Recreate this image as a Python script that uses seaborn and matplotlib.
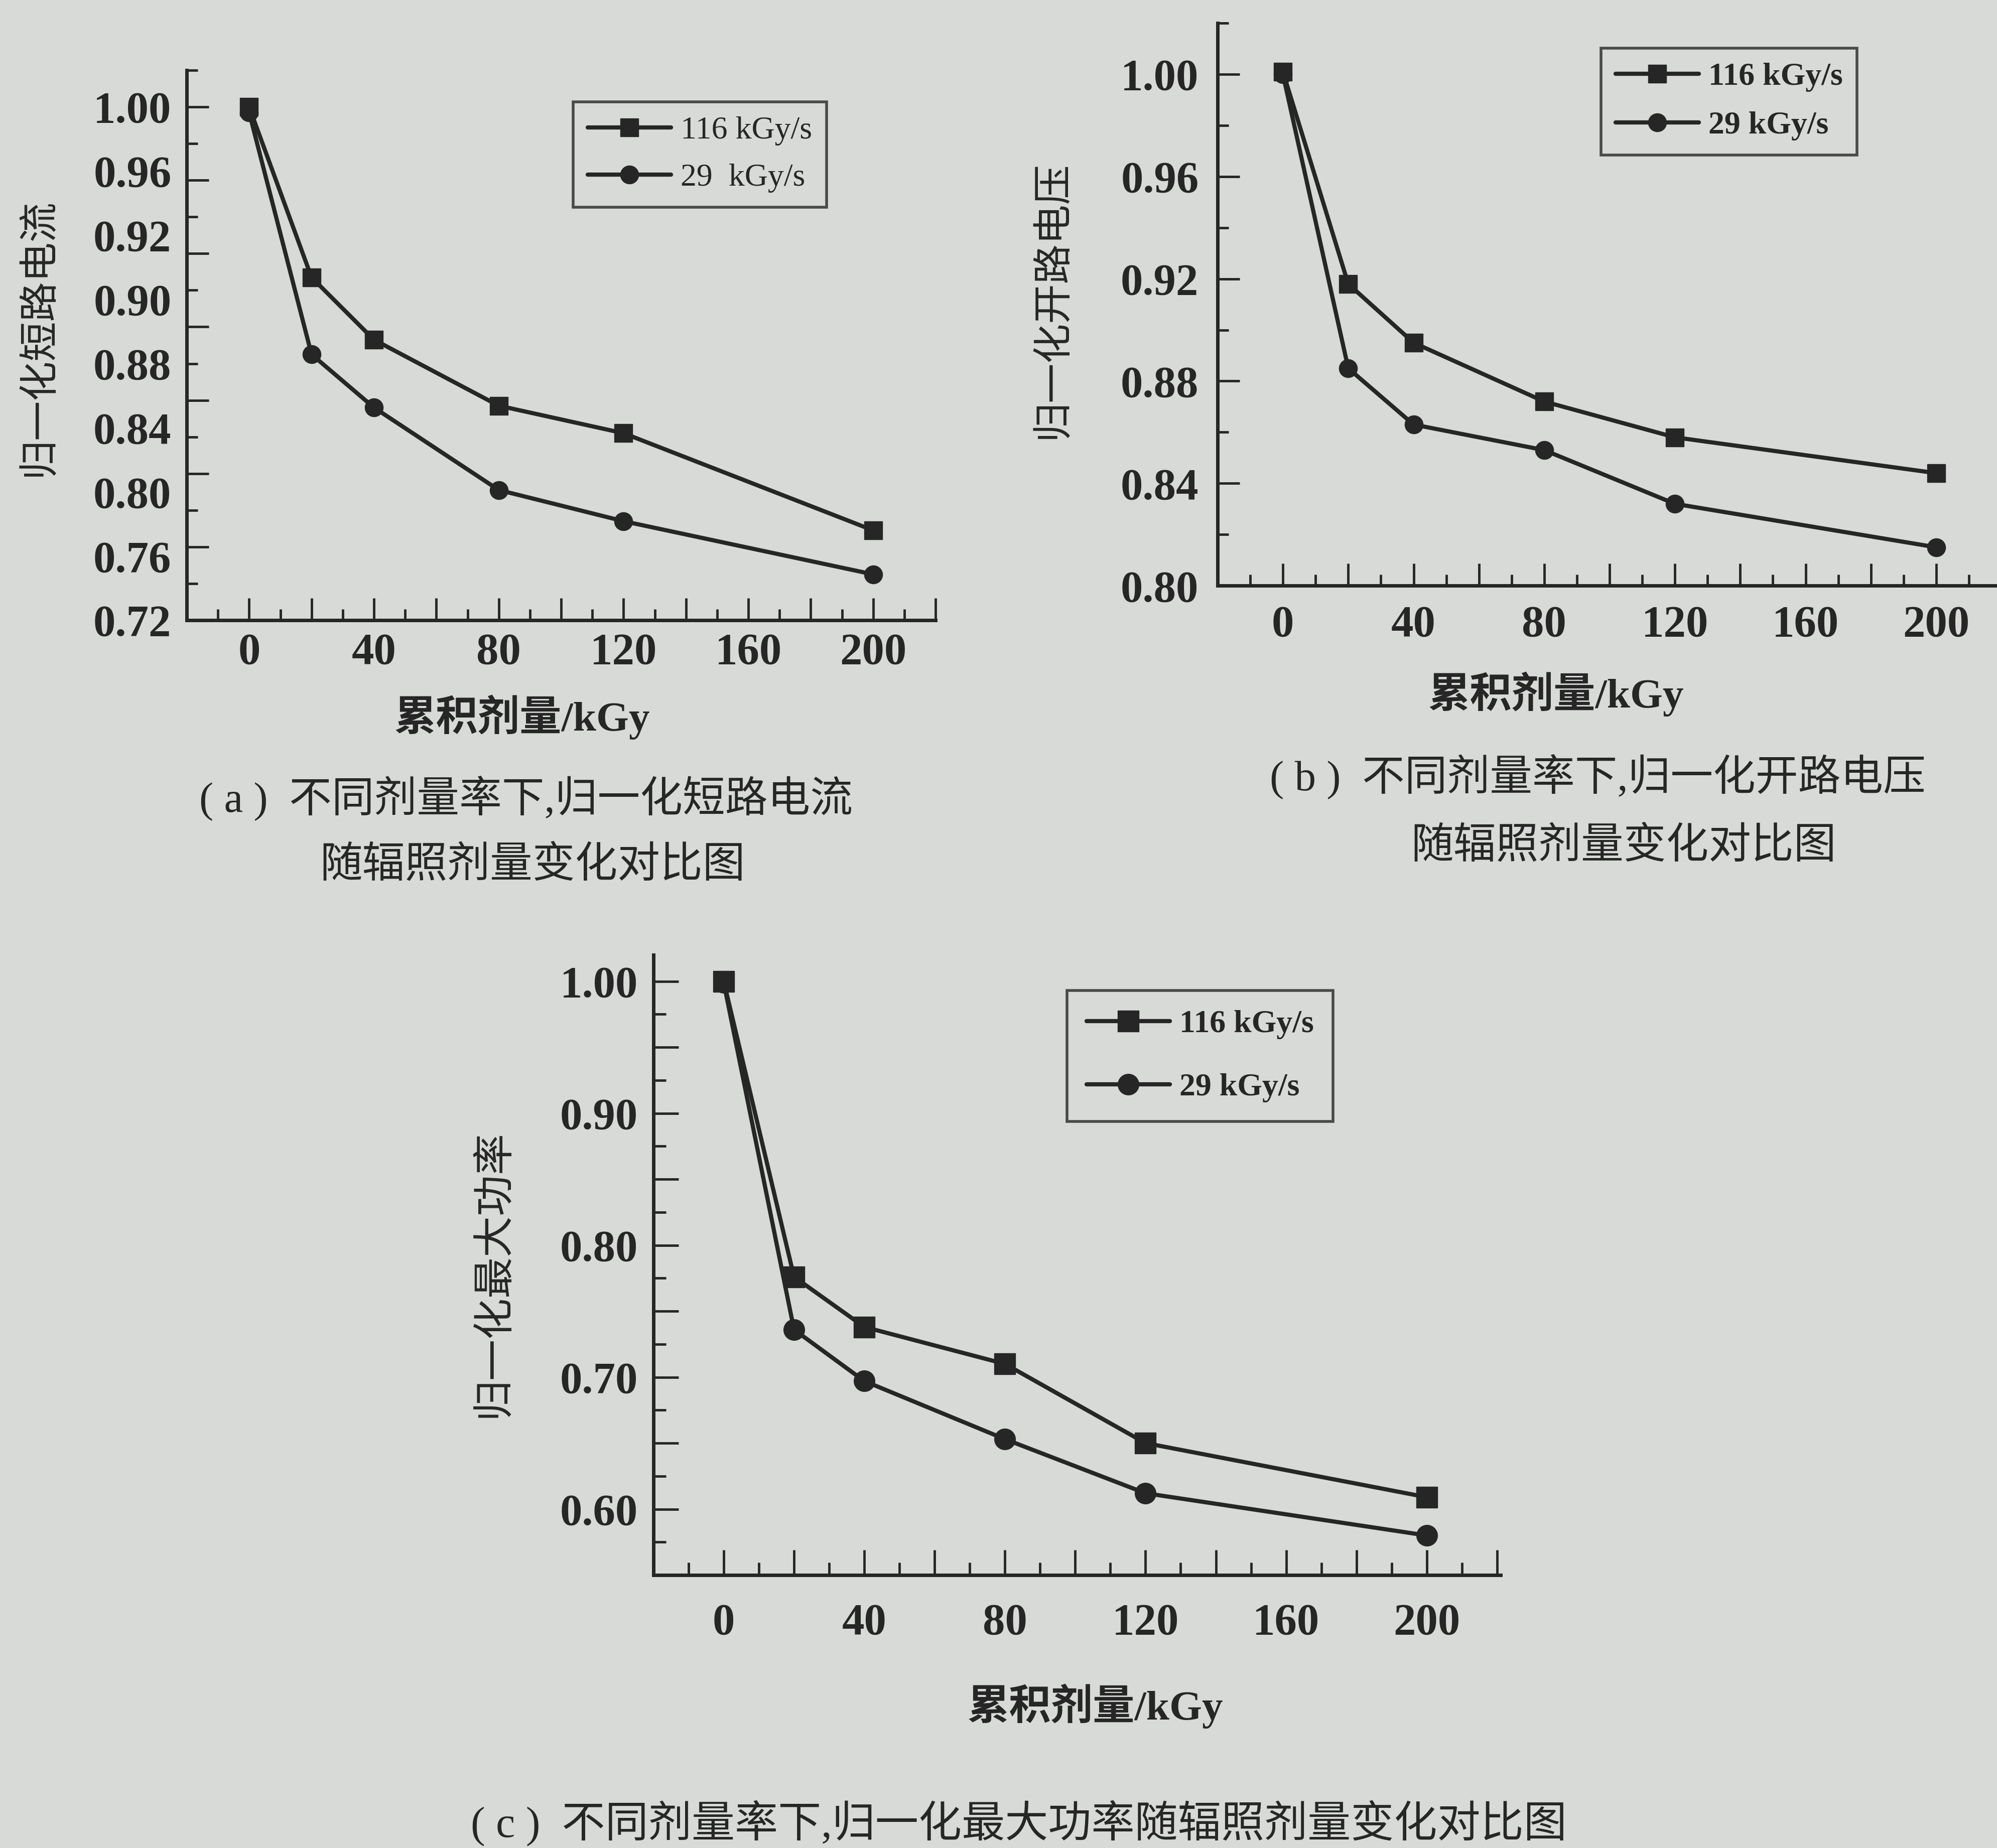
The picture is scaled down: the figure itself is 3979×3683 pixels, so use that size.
import numpy as np
import pandas as pd
import matplotlib
matplotlib.use("Agg")
import matplotlib.pyplot as plt
from matplotlib.ticker import MultipleLocator, NullLocator, FuncFormatter
import seaborn as sns

# ---------------- data ----------------
dose = [0, 20, 40, 80, 120, 200]
rates = ["116 kGy/s", "29 kGy/s"]

isc_116 = [1.000, 0.907, 0.873, 0.837, 0.822, 0.769]
isc_29 = [0.997, 0.865, 0.836, 0.791, 0.774, 0.745]

voc_116 = [1.001, 0.918, 0.895, 0.872, 0.858, 0.844]
voc_29 = [1.000, 0.885, 0.863, 0.853, 0.832, 0.815]

pmax_116 = [1.000, 0.776, 0.738, 0.710, 0.650, 0.609]
pmax_29 = [0.999, 0.736, 0.697, 0.653, 0.612, 0.580]

# printed y tick labels of the short-circuit current panel
isc_tick_labels = ["0.72", "0.76", "0.80", "0.84", "0.88", "0.90", "0.92", "0.96", "1.00"]

xlabel = "累积剂量/kGy"
ylabels = ["归一化短路电流", "归一化开路电压", "归一化最大功率"]
captions = [
    ["( a )  不同剂量率下,归一化短路电流", "随辐照剂量变化对比图"],
    ["( b )  不同剂量率下,归一化开路电压", "随辐照剂量变化对比图"],
    ["( c )  不同剂量率下,归一化最大功率随辐照剂量变化对比图"],
]

# ---------------- style ----------------
INK = "#262626"
PAPER = "#d7dad6"
SERIF = ["Liberation Serif", "Noto Sans CJK SC"]
CJK = ["Noto Sans CJK SC", "Liberation Serif"]

sns.set_theme(style="ticks")
plt.rcParams["font.family"] = SERIF
plt.rcParams["axes.unicode_minus"] = False

W, H = 3979, 3683
fig = plt.figure(figsize=(W / 100, H / 100), dpi=100, facecolor=PAPER)


def draw(rect, s116, s29, xlim, ylim, ms, lw, xpad, ypad, tick_len, legend_kw,
         legend_labels, legend_bold):
    ax = fig.add_axes(rect)
    ax.set_facecolor("none")
    rows = [(d, v, rates[0]) for d, v in zip(dose, s116)] + \
           [(d, v, rates[1]) for d, v in zip(dose, s29)]
    df = pd.DataFrame(rows, columns=["dose", "value", "rate"])
    sns.lineplot(data=df, x="dose", y="value", hue="rate", style="rate",
                 hue_order=rates, style_order=rates,
                 palette={rates[0]: INK, rates[1]: INK},
                 markers={rates[0]: "s", rates[1]: "o"}, dashes=False,
                 markersize=ms, linewidth=lw, markeredgecolor=INK,
                 markeredgewidth=1.0, legend=False, errorbar=None, ax=ax)
    ax.set_xlim(*xlim)
    ax.set_ylim(*ylim)
    ax.set_xlabel("")
    ax.set_ylabel("")
    for side in ("top", "right"):
        ax.spines[side].set_visible(False)
    for side in ("left", "bottom"):
        ax.spines[side].set_linewidth(5.0)
        ax.spines[side].set_color(INK)

    ax.xaxis.set_major_locator(MultipleLocator(20))
    ax.xaxis.set_minor_locator(MultipleLocator(10))
    ax.xaxis.set_major_formatter(FuncFormatter(
        lambda v, p: f"{v:.0f}" if (0 <= v <= 200 and round(v) % 40 == 0) else ""))
    ax.tick_params(axis="both", which="both", direction="in", color=INK,
                   width=3.5, labelcolor=INK)
    ax.tick_params(axis="both", which="major", length=tick_len)
    ax.tick_params(axis="both", which="minor", length=tick_len * 0.5)
    ax.tick_params(axis="x", which="major", pad=xpad, labelsize=64)
    ax.tick_params(axis="y", which="major", pad=ypad, labelsize=64)
    for t in ax.get_xticklabels() + ax.get_yticklabels():
        t.set_fontweight("bold")

    lines = ax.get_lines()[:2]
    leg = ax.legend(lines, legend_labels, frameon=True, fancybox=False,
                    bbox_transform=fig.transFigure, loc="upper left",
                    borderaxespad=0, handlelength=2.6, handletextpad=0.3,
                    prop={"family": SERIF, "size": 46,
                          "weight": "bold" if legend_bold else "normal"},
                    **legend_kw)
    fr = leg.get_frame()
    fr.set_edgecolor(INK)
    fr.set_linewidth(4.0)
    fr.set_facecolor("none")
    for t in leg.get_texts():
        t.set_color(INK)
    return ax


# (a) short-circuit current
ax_a = draw([0.0935, 0.6644, 0.375, 0.2976], isc_116, isc_29,
            (-20, 220), (0.72, 1.02), 26, 6.0, 18, 22, 32,
            dict(bbox_to_anchor=(0.287, 0.9449), labelspacing=0.55, borderpad=0.45),
            ["116 kGy/s", "29  kGy/s"], False)
ax_a.yaxis.set_major_locator(MultipleLocator(0.04))
ax_a.yaxis.set_minor_locator(MultipleLocator(0.02))
ax_a.tick_params(axis="y", which="both", labelleft=False)
sec = ax_a.secondary_yaxis("left")
sec.set_yticks(np.linspace(0.72, 1.00, len(isc_tick_labels)), labels=isc_tick_labels)
sec.yaxis.set_minor_locator(NullLocator())
sec.spines["left"].set_visible(False)
sec.tick_params(axis="y", length=0, pad=22, labelsize=64, labelcolor=INK)
for t in sec.get_yticklabels():
    t.set_fontweight("bold")

# (b) open-circuit voltage
ax_b = draw([0.6097, 0.6831, 0.3903, 0.3044], voc_116, voc_29,
            (-20, 218.6), (0.80, 1.02), 26, 6.0, 28, 27, 32,
            dict(bbox_to_anchor=(0.8017, 0.974), labelspacing=0.6, borderpad=0.45),
            ["116 kGy/s", "29 kGy/s"], True)
ax_b.yaxis.set_major_locator(MultipleLocator(0.04))
ax_b.yaxis.set_minor_locator(MultipleLocator(0.02))
ax_b.yaxis.set_major_formatter(FuncFormatter(lambda v, p: f"{v:.2f}"))
for t in ax_b.get_yticklabels():
    t.set_fontweight("bold")

# (c) maximum power
ax_c = draw([0.3272, 0.1477, 0.4242, 0.3356], pmax_116, pmax_29,
            (-20, 221), (0.55, 1.02), 30, 6.0, 40, 22, 36,
            dict(bbox_to_anchor=(0.5344, 0.464), labelspacing=1.05, borderpad=0.6),
            ["116 kGy/s", "29 kGy/s"], True)
ax_c.yaxis.set_major_locator(MultipleLocator(0.05))
ax_c.yaxis.set_minor_locator(MultipleLocator(0.025))
ax_c.yaxis.set_major_formatter(FuncFormatter(
    lambda v, p: f"{v:.2f}" if abs(round(v * 10) - v * 10) < 1e-6 else ""))
for t in ax_c.get_yticklabels():
    t.set_fontweight("bold")

# axis titles and captions
txt = dict(color=INK, ha="center", va="center")
fig.text(0.0191, 0.8175, ylabels[0], rotation=90, family=CJK, fontsize=57, **txt)
fig.text(0.5268, 0.8380, ylabels[1], rotation=90, family=CJK, fontsize=57, **txt)
fig.text(0.2468, 0.3109, ylabels[2], rotation=90, family=CJK, fontsize=59, **txt)

fig.text(0.2615, 0.6120, xlabel, family=SERIF, fontsize=60, fontweight="bold", **txt)
fig.text(0.7793, 0.6245, xlabel, family=SERIF, fontsize=60, fontweight="bold", **txt)
fig.text(0.5485, 0.0768, xlabel, family=SERIF, fontsize=60, fontweight="bold", **txt)

fig.text(0.2634, 0.5680, captions[0][0], family=SERIF, fontsize=61, **txt)
fig.text(0.2666, 0.5314, captions[0][1], family=SERIF, fontsize=61, **txt)
fig.text(0.8000, 0.5797, captions[1][0], family=SERIF, fontsize=61, **txt)
fig.text(0.8130, 0.5417, captions[1][1], family=SERIF, fontsize=61, **txt)
fig.text(0.5102, 0.0133, captions[2][0], family=SERIF, fontsize=62, **txt)

fig.savefig("out.png", dpi=100, facecolor=PAPER)
